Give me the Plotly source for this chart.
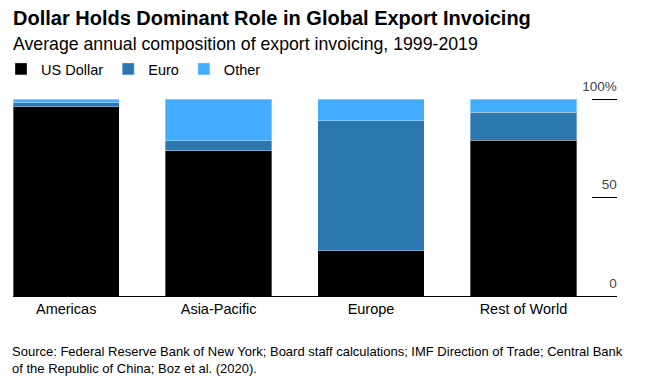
import plotly.graph_objects as go

regions = ["Americas", "Asia-Pacific", "Europe", "Rest of World"]
usd = [96.3, 73.9, 23.0, 79.3]
euro = [2.0, 5.1, 66.1, 14.1]
other = [1.7, 21.0, 10.9, 6.6]

series_names = ["US Dollar", "Euro", "Other"]
series_colors = ["#000000", "#2C77B0", "#42ACFF"]
y_tickvals = [0, 50, 100]
y_ticktext = ["0", "50", "100%"]

title_text = "Dollar Holds Dominant Role in Global Export Invoicing"
subtitle_text = "Average annual composition of export invoicing, 1999-2019"
source_text = ("Source: Federal Reserve Bank of New York; Board staff calculations; IMF Direction of Trade; Central Bank"
               "<br>of the Republic of China; Boz et al. (2020).")

FONT = "Liberation Sans, Arial, sans-serif"
W, H = 647, 382
ML, MR, MT, MB = 13, 30, 76, 86
plot_w, plot_h = W - ML - MR, H - MT - MB
Y0_PX, Y100_PX = 296.0, 99.3
px_per_unit = (Y0_PX - Y100_PX) / 100.0
y_max = plot_h / px_per_unit


def px_x(px):
    return (px - ML) / plot_w


def px_y(py):
    return (H - MB - py) / plot_h


fig = go.Figure()
for name, vals, col in zip(series_names, [usd, euro, other], series_colors):
    fig.add_trace(go.Bar(
        x=list(range(len(regions))), y=vals, name=name,
        marker=dict(color=col, line=dict(color="rgba(255,255,255,0.35)", width=1)),
        hoverinfo="skip",
    ))

fig.update_layout(
    width=W, height=H,
    barmode="stack", bargap=0.3025,
    paper_bgcolor="white", plot_bgcolor="white",
    margin=dict(l=ML, r=MR, t=MT, b=MB, autoexpand=False),
    font=dict(family=FONT, color="#000000"),
    title=dict(text="<b>" + title_text + "</b>", x=13 / W, xanchor="left",
               xref="container", y=1 - 18 / H, yanchor="middle", yref="container",
               font=dict(size=20, family=FONT, color="#000000")),
    showlegend=True,
    legend=dict(orientation="h", x=px_x(1), xanchor="left", y=px_y(69), yanchor="middle",
                font=dict(size=14.5), traceorder="normal",
                itemwidth=30, bgcolor="rgba(0,0,0,0)"),
    xaxis=dict(
        tickmode="array", tickvals=list(range(len(regions))), ticktext=regions,
        range=[-0.349, 3.614], showline=True, linecolor="#000000", linewidth=1,
        ticks="", showgrid=False, zeroline=False, tickfont=dict(size=14.5),
        fixedrange=True,
    ),
    yaxis=dict(
        range=[0, y_max], side="right", tickmode="array", tickvals=y_tickvals, ticktext=y_ticktext,
        ticks="inside", ticklen=25, tickcolor="#000000", tickwidth=1,
        ticklabelposition="inside", ticklabelshift=-13, ticklabelstandoff=-25,
        showgrid=False, zeroline=False, showline=False, tickfont=dict(size=13.5),
        fixedrange=True,
    ),
    annotations=[
        dict(text=subtitle_text, x=px_x(11), y=px_y(44), xref="paper", yref="paper",
             xanchor="left", yanchor="middle", showarrow=False, font=dict(size=17.7)),
        dict(text=source_text, x=px_x(10), y=px_y(360), xref="paper", yref="paper",
             xanchor="left", yanchor="middle", align="left", showarrow=False,
             font=dict(size=13)),
    ],
)

fig.write_html("out.html", config={"displayModeBar": False},
               post_script="document.body.style.margin='0';")
